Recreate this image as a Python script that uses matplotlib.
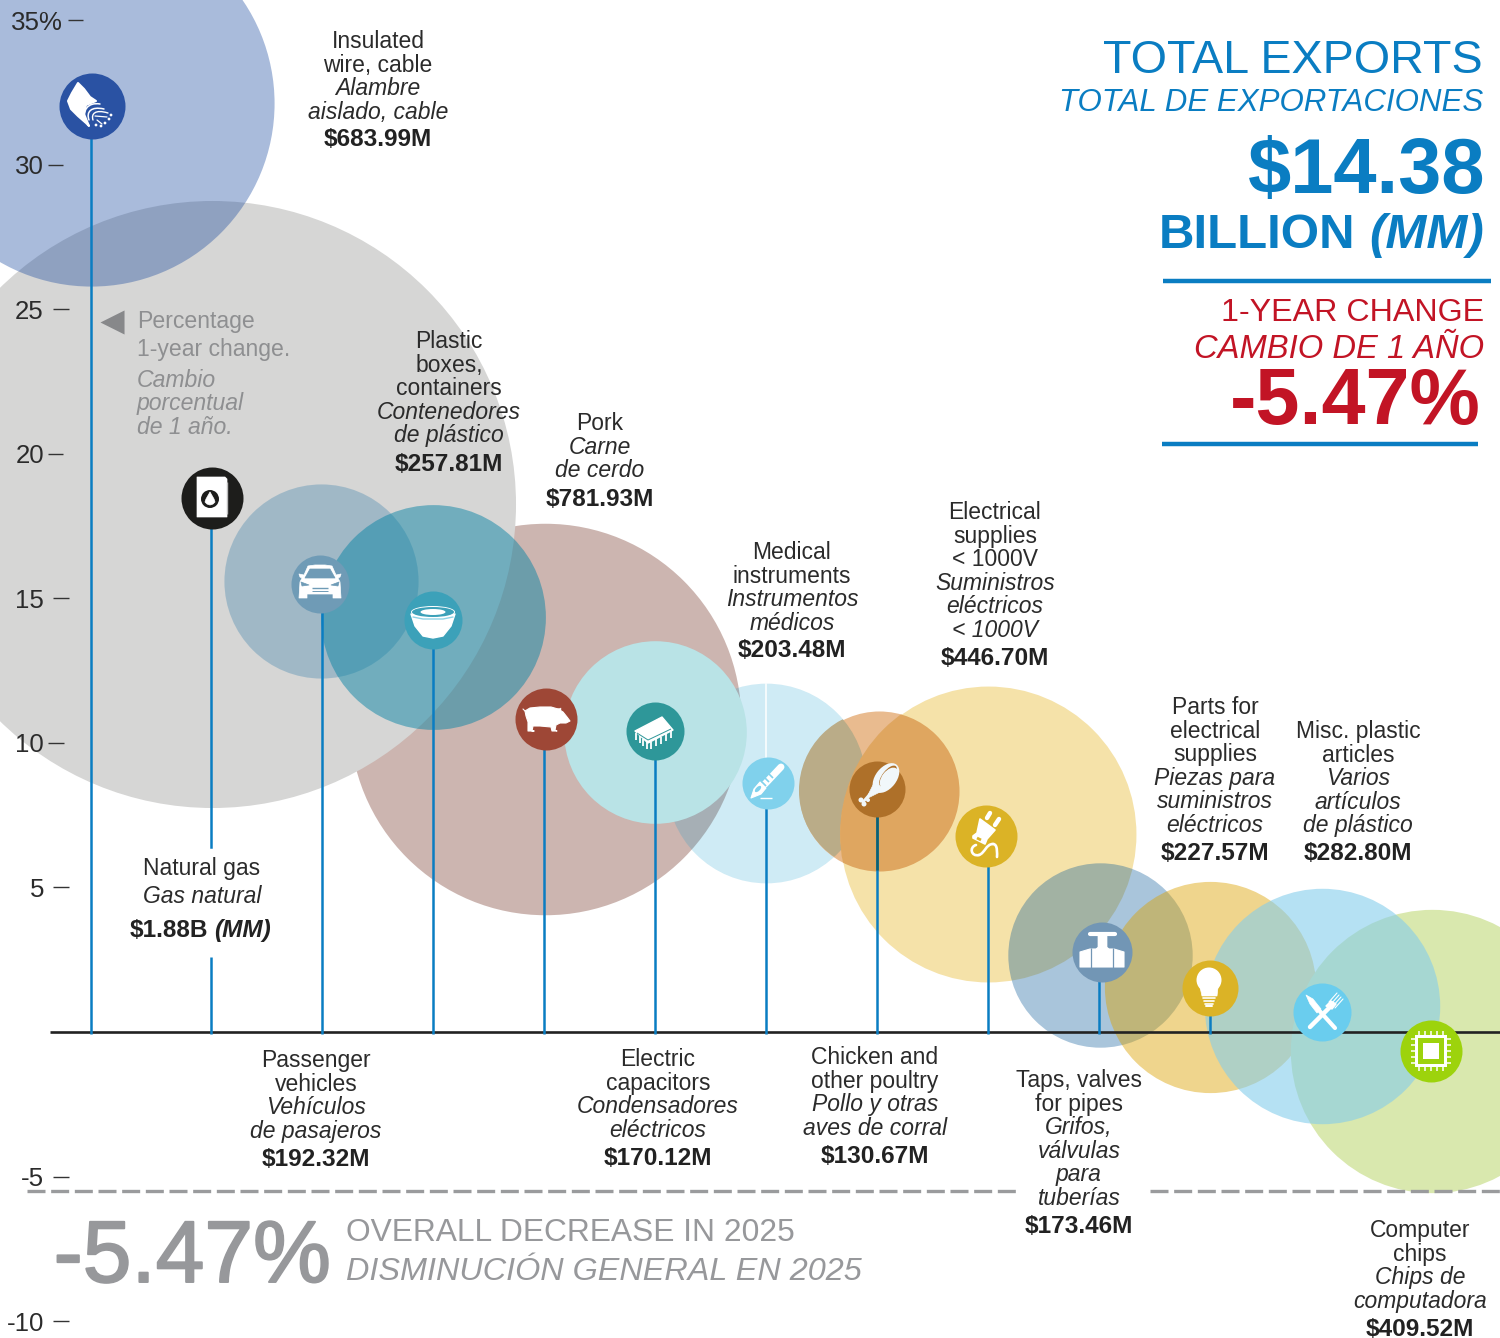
#%% GET LIBRARIES
import numpy as np
import matplotlib
matplotlib.use('Agg')
import matplotlib.pyplot as plt
import matplotlib.patheffects as pe
from matplotlib.patches import Polygon, Circle, Ellipse, PathPatch
from matplotlib.path import Path
from matplotlib.transforms import Affine2D, IdentityTransform

plt.rcParams['font.family'] = ['Liberation Sans', 'DejaVu Sans']

#%% DATA
exports_m = [683.99, 1880, 192.32, 257.81, 781.93, 170.12, 203.48,
             130.67, 446.70, 173.46, 227.57, 282.80, 409.52]
change_pct = [32.13, 18.25, 15.6, 14.35, 10.83, 10.38, 8.6,
              8.35, 6.85, 2.66, 1.56, 0.9, -0.66]
value_labels = ['$683.99M', '$1.88B', '$192.32M', '$257.81M', '$781.93M', '$170.12M', '$203.48M',
                '$130.67M', '$446.70M', '$173.46M', '$227.57M', '$282.80M', '$409.52M']
names_en = [['Insulated', 'wire, cable'], ['Natural gas'], ['Passenger', 'vehicles'],
            ['Plastic', 'boxes,', 'containers'], ['Pork'], ['Electric', 'capacitors'],
            ['Medical', 'instruments'], ['Chicken and', 'other poultry'],
            ['Electrical', 'supplies', '< 1000V'], ['Taps, valves', 'for pipes'],
            ['Parts for', 'electrical', 'supplies'], ['Misc. plastic', 'articles'],
            ['Computer', 'chips']]
names_es = [['Alambre', 'aislado, cable'], ['Gas natural'], ['Vehículos', 'de pasajeros'],
            ['Contenedores', 'de plástico'], ['Carne', 'de cerdo'], ['Condensadores', 'eléctricos'],
            ['Instrumentos', 'médicos'], ['Pollo y otras', 'aves de corral'],
            ['Suministros', 'eléctricos', '< 1000V'], ['Grifos,', 'válvulas', 'para', 'tuberías'],
            ['Piezas para', 'suministros', 'eléctricos'], ['Varios', 'artículos', 'de plástico'],
            ['Chips de', 'computadora']]
tick_values = [35, 30, 25, 20, 15, 10, 5, -5, -10]
tick_labels = ['35%', '30', '25', '20', '15', '10', '5', '-5', '-10']

#%% LAYOUT (pixels of the 1500x1338 picture)
DPI = 100
ZERO_PX = 1032
PX_PER_UNIT = 28.914
BLUE = '#0A7DC2'
RED = '#C21425'
DARK = '#2B2B2B'
GREY = '#8E8F91'

stem_x = [91, 211, 322, 433, 544, 655, 766, 877, 988, 1099, 1210, 1321, 1431]
bubble_x = [91, 212, 321, 433, 545, 655, 766, 879, 988, 1100, 1210, 1322, 1432]
icon_xy = [(92, 106), (212, 498), (320, 584), (433, 620), (546, 719), (655, 731), (768, 783),
           (877, 789), (986, 836), (1102, 952), (1210, 988), (1322, 1012), (1431, 1051)]
icon_size = [66, 62, 58, 58, 62, 58, 52, 56, 62, 60, 56, 58, 62]
icon_color = ['#2A52A3', '#1D1D1B', '#6F9BB6', '#3CA1B9', '#9E4736', '#2E9799', '#80D1EC',
              '#AE7029', '#DBB326', '#7296B5', '#DBB326', '#6ACDEE', '#9DD30C']
# rgb, alpha picked so overlaps come out like the print multiply
bubble_color = [((22, 71, 158), .37), ((214, 214, 213), 1), ((108, 156, 185), .5), ((8, 132, 165), .49),
                ((204, 181, 176), 1), ((185, 227, 230), 1), ((15, 155, 205), .2), ((233, 187, 143), 1),
                ((245, 226, 169), 1), ((9, 89, 152), .35), ((220, 162, 2), .45), ((133, 205, 235), .6),
                ((217, 232, 174), 1)]
draw_order = [4, 1, 6, 5, 7, 8, 2, 3, 0, 9, 10, 12, 11]
RADIUS_PER_SQRT = 7.0

# label centre x, first baseline, value baseline
label_pos = [(378, 48, 146), (202, 875, 937), (316, 1067, 1166), (449, 348, 471), (600, 430, 506),
             (658, 1066, 1165), (792, 559, 657), (875, 1064, 1163), (995, 519, 665),
             (1079, 1087, 1233), (1215, 714, 860), (1358, 738, 860), (1420, 1237, 1336)]
tick_dash = [(68, 83), (48, 63), (53, 69), (48, 63), (53, 69), (48, 64), (53, 69), (53, 69), (53, 69)]
tick_text_right = [63, 44, 44, 44, 44, 44, 44, 44, 44]


def py(p):
    """ picture pixel row -> percent on the y axis """
    return (ZERO_PX - p) / PX_PER_UNIT


#%% FIGURE
fig = plt.figure(figsize=(15, 13.38), dpi=DPI)
ax = fig.add_axes([0, 0, 1, 1])
ax.set_xlim(0, 1500)
ax.set_ylim(py(1338), py(0))
ax.axis('off')


def radius(i):
    return RADIUS_PER_SQRT * np.sqrt(exports_m[i])


def bubble(i, rgb, alpha=1, clip_to=None):
    d_pt = 2 * radius(i) * 72 / DPI
    sc = ax.scatter(bubble_x[i], change_pct[i], s=d_pt ** 2, color=[(*[c / 255 for c in rgb], alpha)],
                    linewidths=0, zorder=2)
    if clip_to is not None:
        centre = ax.transData.transform((bubble_x[clip_to], change_pct[clip_to]))
        sc.set_clip_path(Circle(centre, radius(clip_to), transform=IdentityTransform()))


# bubbles, area follows the export value
for i in draw_order:
    bubble(i, *bubble_color[i])
    if i == 7:
        # poultry over medical instruments
        bubble(6, (186, 172, 136), clip_to=7)
    if i == 8:
        # poultry over electrical supplies
        bubble(7, (223, 166, 96), clip_to=8)

# axis and overall line
ax.plot([50, 1500], [0, 0], color='#222222', lw=1.9, zorder=3, solid_capstyle='butt')
ax.plot([27, 1018], [py(1191)] * 2, color='#9A9B9D', lw=2.4, dashes=(5.4, 1.7), zorder=3)
ax.plot([1150, 1500], [py(1191)] * 2, color='#9A9B9D', lw=2.4, dashes=(5.4, 1.7), zorder=3)

# stems
for i in range(13):
    top = py(icon_xy[i][1])
    if i == 1:
        ax.plot([stem_x[i]] * 2, [top, py(847)], color=BLUE, lw=1.8, zorder=4)
        ax.plot([stem_x[i]] * 2, [py(957), py(1034)], color=BLUE, lw=1.8, zorder=4, solid_capstyle='butt')
    elif i < 11:
        ax.plot([stem_x[i]] * 2, [top, py(1034)], color=BLUE, lw=1.8, zorder=4, solid_capstyle='butt')
ax.plot([877, 877], [py(800), py(870)], color='#0E5F6E', lw=1.8, zorder=4, solid_capstyle='butt')
ax.plot([766, 766], [py(684), py(760)], color='white', lw=1.1, zorder=4)

# y ticks
for v, lab, (x0, x1), xr in zip(tick_values, tick_labels, tick_dash, tick_text_right):
    ax.plot([x0, x1], [v, v], color='#333333', lw=1.0, zorder=5, solid_capstyle='butt')
    ax.text(xr, v, lab, ha='right', va='center_baseline', fontsize=18.6, color=DARK, zorder=5)

# icon discs
for i in range(13):
    ax.scatter(icon_xy[i][0], py(icon_xy[i][1]), s=(icon_size[i] * 72 / DPI) ** 2, color=icon_color[i],
               linewidths=0, zorder=6)


#%% ICON GLYPHS (offsets in px from the icon centre, y down)
def tr(i):
    cx, cy = ax.transData.transform((icon_xy[i][0], py(icon_xy[i][1])))
    return Affine2D().scale(1, -1).translate(cx, cy)


def poly(t, pts, c='white', z=7, lw=0.5):
    ax.add_patch(Polygon(pts, closed=True, fc=c, ec=c, lw=lw, joinstyle='round', transform=t, zorder=z, clip_on=False))


def seg(t, pts, c='white', lw=1.5, z=7, cap='round'):
    p = np.array(pts, dtype=float)
    ax.plot(p[:, 0], p[:, 1], color=c, lw=lw, transform=t, zorder=z, solid_capstyle=cap, clip_on=False)


def disc(t, x, y, r, c='white', z=7):
    ax.add_patch(Circle((x, y), r, fc=c, ec='none', transform=t, zorder=z, clip_on=False))


def oval(t, x, y, w, h, ang=0, c='white', z=7, ec='none', lw=0):
    ax.add_patch(Ellipse((x, y), w, h, angle=ang, fc=c, ec=ec, lw=lw, transform=t, zorder=z, clip_on=False))


def curve(t, verts, c='white', lw=1.5, z=7):
    codes = [Path.MOVETO] + [Path.CURVE4] * (len(verts) - 1)
    ax.add_patch(PathPatch(Path(verts, codes), fc='none', ec=c, lw=lw, capstyle='round', transform=t, zorder=z, clip_on=False))


# wire
t = tr(0)
c0 = icon_color[0]
poly(t, [(-14, -23), (-20, -13), (-24, -5), (-21, 3), (-14, 10), (-6, 17), (-3, 20), (-8, 8), (-6, -1), (4, -5), (-2, -9), (-8, -17)], lw=1.5)
curve(t, [(-7, 16), (-10, 4), (-4, -4), (8, -2)], lw=1.1)
curve(t, [(-3, 14), (-6, 6), (-1, 0), (12, 3)], lw=1.1)
curve(t, [(1, 14), (-1, 8), (3, 3), (16, 7)], lw=1.0)
seg(t, [(3, 10), (15, 11)], lw=0.9)
seg(t, [(5, 14), (10, 18)], lw=0.9)
for dx, dy in [(19, 9), (17, 13), (13, 17), (9, 20), (4, 19)]:
    disc(t, dx, dy, 1.4)

# natural gas
t = tr(1)
poly(t, [(-15, -21), (13, -21), (15, -19), (15, 19), (-15, 19)], lw=0.5)
seg(t, [(15, -16), (15, 16)], c='#BBBBBB', lw=1.0, cap='butt')
disc(t, -2, 1, 9, c=icon_color[1], z=8)
poly(t, [(-2, -6), (2, 1), (3, 4), (1, 6), (-2, 7), (-5, 6), (-7, 4), (-6, 1)], z=9)

# car
t = tr(2)
c0 = icon_color[2]
poly(t, [(-12, -18), (-5, -19), (5, -19), (12, -18), (16, -9), (21, -10), (20, -7), (18, -6), (20, -2), (21, 14), (13, 14), (13, 10),
         (-13, 10), (-13, 14), (-21, 14), (-20, -2), (-18, -6), (-20, -7), (-21, -10), (-16, -9)])
poly(t, [(-10, -15), (10, -15), (15, -6), (-15, -6)], c=c0, z=8)
poly(t, [(-19, -2), (-11, 1), (-18, 2)], c=c0, z=8)
poly(t, [(19, -2), (11, 1), (18, 2)], c=c0, z=8)
seg(t, [(-8, 4), (8, 4)], c=c0, lw=1.0, z=8, cap='butt')
seg(t, [(-8, 7), (8, 7)], c=c0, lw=0.7, z=8, cap='butt')

# bowl
t = tr(3)
c0 = icon_color[3]
poly(t, [(-22, -6), (22, -6), (18, 6), (10, 16), (0, 18), (-10, 16), (-18, 6)], lw=1)
oval(t, 0, -8, 44, 12)
oval(t, 0, -8, 42, 10, c=c0, z=8)
oval(t, 0, -8, 25, 6, z=9)
seg(t, [(-20, -3), (-10, -1), (10, -1), (20, -3)], c='#8FD3E6', lw=1.0, z=9)

# pork
t = tr(4)
poly(t, [(-21, -8), (-16, -11), (-6, -12), (5, -12), (12, -10), (17, -7), (21, -2), (24, 2), (20, 4), (14, 4), (10, 6), (9, 11), (11, 12), (6, 12), (5, 8),
         (-6, 7), (-13, 7), (-14, 12), (-12, 12), (-18, 12), (-18, 3), (-20, -3)], lw=0.8)
seg(t, [(-21, -8), (-23, -10)], lw=0.8)
poly(t, [(11, -10), (15, -11), (15, -6)], lw=0.3)

# chip
t = tr(5)
c0 = icon_color[5]
poly(t, [(-20, 0), (7, -14), (18, -1), (-7, 12)], lw=1)
seg(t, [(-18, 2), (-7, 9), (16, -2)], c=c0, lw=0.7, z=8, cap='butt')
for f in np.linspace(0.1, 0.9, 4):
    x = -20 + 13 * f
    y = 1 + 11 * f
    seg(t, [(x, y), (x, y + 7)], lw=1.3, cap='butt')
for f in np.linspace(0.1, 0.9, 5):
    x = -7 + 25 * f
    y = 12 - 13 * f
    seg(t, [(x, y), (x, y + 7)], lw=1.3, cap='butt')

# scalpel
t = tr(6)
c0 = icon_color[6]
seg(t, [(13, -16), (-3, 1)], lw=5)
for dx, dy in [(-1, -3), (3, -7), (-4, 1)]:
    seg(t, [(dx - 2, dy - 2), (dx + 2, dy + 2)], c=c0, lw=1.2, z=8, cap='butt')
poly(t, [(-8, -1), (-2, 5), (-7, 11), (-17, 15), (-14, 6)], lw=0.8)
oval(t, -10, 6, 4, 8, 45, c=c0, z=9)
seg(t, [(-8, 15), (4, 15)], lw=1.0, cap='butt')

# poultry
t = tr(7)
oval(t, 9, -11, 34, 21, -52, c='#F1F7FA')
oval(t, 11, -13, 25, 11, -52, c=icon_color[7], z=8)
oval(t, 12, -11, 24, 14, -52, c='#F1F7FA', z=9)
poly(t, [(-3, -6), (5, 2), (-9, 9), (-9, 6)], c='#F1F7FA', lw=0.5)
seg(t, [(-7, 5), (-14, 13)], c='#F1F7FA', lw=2)
disc(t, -16, 11, 2.5, c='#F1F7FA')
disc(t, -13, 15, 2.5, c='#F1F7FA')
disc(t, -9, 11, 2, c='#F1F7FA')

# plug
t = tr(8)
seg(t, [(4, -23), (1, -18)], lw=3.2)
seg(t, [(13, -17), (9, -11)], lw=3.2)
poly(t, [(-6, -17), (9, -6), (1, 3), (-1, 8), (-3, 7), (-13, 2), (-13, 0), (-9, -3)], lw=1.2)
seg(t, [(-9, 2), (-5, 4)], c=icon_color[8], lw=2, z=8, cap='butt')
curve(t, [(-10, 9), (-17, 11), (-15, 21), (-7, 19)], lw=1.9)
curve(t, [(-7, 19), (-1, 17), (0, 8), (7, 8)], lw=1.9)
curve(t, [(7, 8), (12, 8), (11, 18), (11, 21)], lw=1.9)

# valve
t = tr(9)
c0 = icon_color[9]
poly(t, [(-22, 0), (-12, -3), (12, -3), (22, 0), (22, 15), (-22, 15)], lw=0.8)
seg(t, [(-11, -4), (-11, 16)], c=c0, lw=0.9, z=8, cap='butt')
seg(t, [(11, -4), (11, 16)], c=c0, lw=0.9, z=8, cap='butt')
seg(t, [(-12, -18), (13, -18)], lw=3)
poly(t, [(-4, -17), (5, -17), (5, -5), (7, -3), (-6, -3), (-4, -5)])

# parts bulb
t = tr(10)
c0 = icon_color[10]
disc(t, -1, -8, 12.5)
poly(t, [(-10, -1), (8, -1), (7, 8), (-8, 8)])
for yy in [10, 13, 16]:
    seg(t, [(-7 + (yy - 10) * .3, yy), (5 - (yy - 10) * .3, yy)], lw=1.2)
seg(t, [(-4, 18), (2, 18)], lw=1.4)

# fork and knife
t = tr(11)
seg(t, [(-6, -5), (13, 16)], lw=3)
poly(t, [(-16, -17), (-9, -13), (-1, -3), (-5, 1), (-12, -8)], lw=0.5)
seg(t, [(-12, 15), (9, -6)], lw=3.2)
poly(t, [(4, -6), (9, -11), (14, -8), (10, -3)], lw=1)
for k in range(4):
    seg(t, [(7 + k * 2, -10 + k * 2), (15 + k * 2, -19 + k * 2)], lw=0.8)

# computer chip
t = tr(12)
c0 = icon_color[12]
poly(t, [(-16, -16), (16, -16), (16, 16), (-16, 16)], lw=0)
poly(t, [(-13, -13), (13, -13), (13, 13), (-13, 13)], c=c0, z=8, lw=0)
poly(t, [(-8, -8), (8, -8), (8, 8), (-8, 8)], z=9, lw=0)
for f in np.linspace(-12, 12, 5):
    seg(t, [(f, -16), (f, -20)], lw=1.1, cap='butt')
    seg(t, [(f, 16), (f, 20)], lw=1.1, cap='butt')
    seg(t, [(-16, f), (-20, f)], lw=1.1, cap='butt')
    seg(t, [(16, f), (20, f)], lw=1.1, cap='butt')


#%% CATEGORY LABELS
LINE = 23.6
for i in range(13):
    x, y0, yv = label_pos[i]
    y = y0
    if i == 1:
        ax.text(x, py(875), names_en[i][0], ha='center', fontsize=16.5, color=DARK, zorder=9)
        ax.text(x, py(903), names_es[i][0], ha='center', fontsize=16.5, style='italic', color=DARK, zorder=9)
        ax.text(208, py(yv), value_labels[i], ha='right', fontsize=17.6, weight='bold', color='#222222', zorder=9)
        ax.text(214, py(yv), '(MM)', ha='left', fontsize=17.6, weight='bold', style='italic', color='#222222', zorder=9)
        continue
    for s in names_en[i]:
        ax.text(x, py(y), s, ha='center', fontsize=16.5, color=DARK, zorder=9)
        y += LINE
    for s in names_es[i]:
        ax.text(x, py(y), s, ha='center', fontsize=16.5, style='italic', color=DARK, zorder=9)
        y += LINE
    ax.text(x, py(yv), value_labels[i], ha='center', fontsize=17.6, weight='bold', color='#222222', zorder=9)

# y axis note
ax.scatter(112, py(322), marker='<', s=300, color='#87888A', linewidths=0, zorder=9)
for s, yy, sty in [('Percentage', 328, 'normal'), ('1-year change.', 356, 'normal'),
                   ('Cambio', 387, 'italic'), ('porcentual', 410, 'italic'), ('de 1 año.', 434, 'italic')]:
    ax.text(137, py(yy), s, fontsize=16.6, style=sty, color=GREY, zorder=9)

#%% HEADER BLOCK
ax.text(1483, py(73), 'TOTAL EXPORTS', ha='right', fontsize=33.6, color=BLUE)
ax.text(1483, py(111), 'TOTAL DE EXPORTACIONES', ha='right', fontsize=22.5, style='italic', color=BLUE)
ax.text(1485, py(193), '$14.38', ha='right', fontsize=56, weight='bold', color=BLUE)
ax.text(1355, py(248), 'BILLION', ha='right', fontsize=35.5, weight='bold', color=BLUE)
ax.text(1484, py(248), '(MM)', ha='right', fontsize=35.5, weight='bold', style='italic', color=BLUE)
ax.plot([1163, 1491], [py(281)] * 2, color=BLUE, lw=3.2, solid_capstyle='butt')
ax.text(1484, py(321), '1-YEAR CHANGE', ha='right', fontsize=23.2, color=RED)
ax.text(1484, py(358), 'CAMBIO DE 1 AÑO', ha='right', fontsize=23.6, style='italic', color=RED)
ax.text(1481, py(424), '-5.47%', ha='right', fontsize=57, weight='bold', color=RED)
ax.plot([1162, 1478], [py(444)] * 2, color=BLUE, lw=3.2, solid_capstyle='butt')

#%% OVERALL NOTE
big = ax.text(331, py(1282), '-5.47%', ha='right', fontsize=63, color='#97989B')
big.set_path_effects([pe.withStroke(linewidth=1.4, foreground='#97989B')])
ax.text(346, py(1241), 'OVERALL DECREASE IN 2025', fontsize=22.9, color='#97989B')
ax.text(346, py(1280), 'DISMINUCIÓN GENERAL EN 2025', fontsize=23.3, style='italic', color='#97989B')

fig.savefig('out.png', dpi=DPI)
